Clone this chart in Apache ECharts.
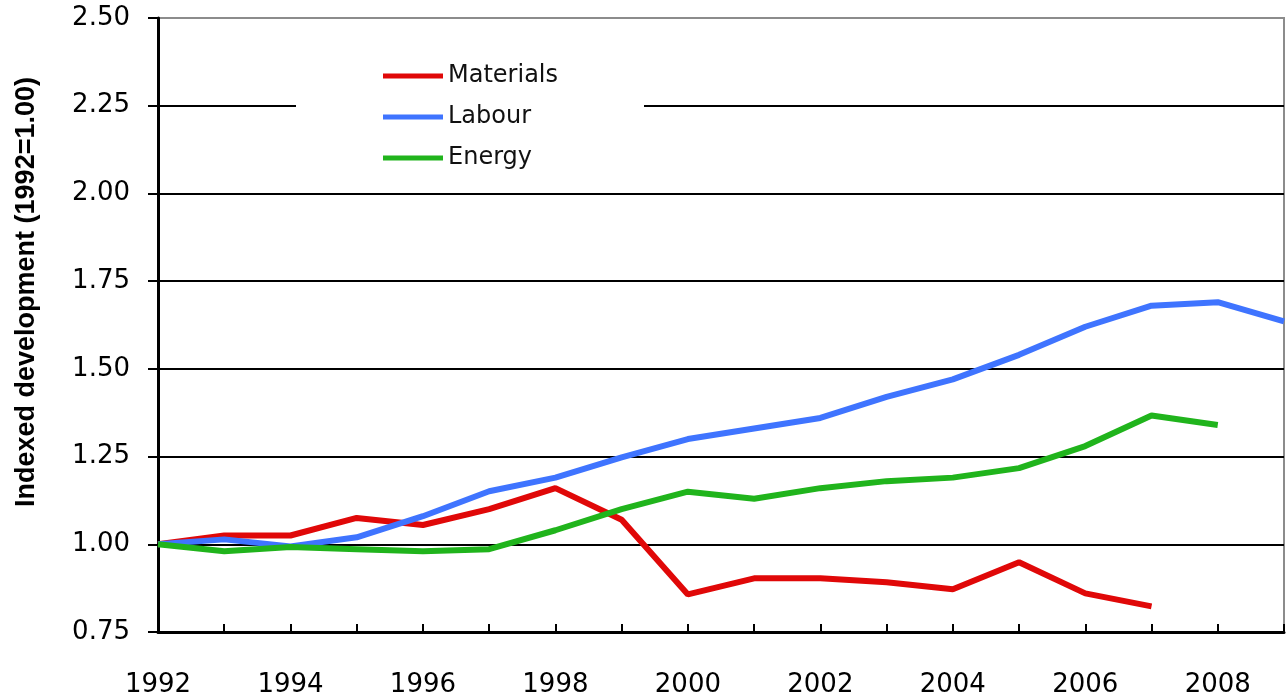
<!DOCTYPE html>
<html>
<head>
<meta charset="utf-8">
<script src="https://cdn.jsdelivr.net/npm/echarts@6/dist/echarts.min.js"></script>
<style>
  html, body { margin: 0; padding: 0; background: #fff; }
  #chart { width: 1287px; height: 700px; }
</style>
</head>
<body>
<div id="chart"></div>
<script>
const years = [1992, 1993, 1994, 1995, 1996, 1997, 1998, 1999, 2000, 2001, 2002, 2003, 2004, 2005, 2006, 2007, 2008, 2009]
const materials = [1.00, 1.025, 1.025, 1.075, 1.055, 1.10, 1.16, 1.07, 0.857, 0.903, 0.903, 0.892, 0.872, 0.949, 0.86, 0.823]
const labour = [1.00, 1.014, 0.994, 1.02, 1.08, 1.151, 1.19, 1.248, 1.30, 1.33, 1.36, 1.42, 1.47, 1.54, 1.62, 1.68, 1.69, 1.635]
const energy = [1.00, 0.98, 0.992, 0.986, 0.98, 0.986, 1.04, 1.10, 1.15, 1.13, 1.16, 1.18, 1.19, 1.217, 1.28, 1.367, 1.34]
const yTicks = ['0.75', '1.00', '1.25', '1.50', '1.75', '2.00', '2.25', '2.50']

const pairs = (vals) => vals.map((v, i) => [years[i], v])

const chart = echarts.init(document.getElementById('chart'))
const font = 'DejaVu Sans'
const mkLine = (name, vals, color) => ({
    name,
    type: 'line',
    data: pairs(vals),
    showSymbol: false,
    symbol: 'none',
    lineStyle: { color, width: 6 },
    itemStyle: { color },
    z: 3
})

chart.setOption({
    animation: false,
    grid: {
        left: 158, right: 3, top: 18, bottom: 68,
        show: true, borderColor: '#8c8c8c', borderWidth: 2
    },
    legend: {
        orient: 'vertical',
        left: 296, top: 46,
        padding: [18, 86, 18, 87],
        backgroundColor: '#fff',
        icon: 'rect',
        itemWidth: 60, itemHeight: 5,
        itemGap: 17,
        textStyle: { fontFamily: font, fontSize: 24, color: '#111' },
        data: ['Materials', 'Labour', 'Energy']
    },
    graphic: [{
        type: 'text',
        x: 27, y: 292,
        rotation: Math.PI / 2,
        style: {
            text: 'Indexed development (1992=1.00)',
            fontFamily: 'Liberation Sans', fontWeight: 'bold', fontSize: 27,
            fill: '#000', align: 'center', verticalAlign: 'middle'
        }
    }],
    xAxis: {
        type: 'value',
        min: 1992, max: 2009, interval: 1,
        axisLine: { lineStyle: { color: '#000', width: 3 } },
        axisTick: { inside: true, length: 8, lineStyle: { color: '#000', width: 2 } },
        axisLabel: {
            margin: 40, fontFamily: font, fontSize: 26, color: '#000',
            formatter: (v) => (v % 2 === 0 && v < 2009) ? String(v) : ''
        },
        splitLine: { show: false }
    },
    yAxis: {
        type: 'value',
        min: 0.75, max: 2.5, interval: 0.25,
        axisLine: { show: true, lineStyle: { color: '#000', width: 3 } },
        axisTick: { show: true, length: 10, lineStyle: { color: '#000', width: 2 } },
        axisLabel: {
            margin: 28, fontFamily: font, fontSize: 26, color: '#000',
            formatter: (v) => yTicks[Math.round((v - 0.75) / 0.25)]
        },
        splitLine: {
            lineStyle: {
                color: ['#000', '#000', '#000', '#000', '#000', '#000', '#000', '#8c8c8c'],
                width: 2
            }
        }
    },
    series: [
        mkLine('Materials', materials, '#e00808'),
        mkLine('Labour', labour, '#3f74ff'),
        mkLine('Energy', energy, '#20b41c')
    ]
})
</script>
</body>
</html>
